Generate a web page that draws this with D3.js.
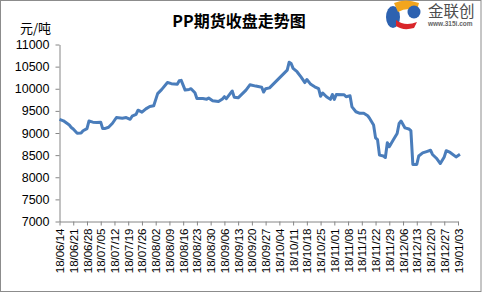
<!DOCTYPE html>
<html>
<head>
<meta charset="utf-8">
<script src="https://cdn.jsdelivr.net/npm/d3@7.9.0/dist/d3.min.js"></script>
<style>
  html, body { margin: 0; padding: 0; background: #fff; }
  svg { display: block; }
</style>
</head>
<body>
<svg id="chart" width="482" height="293"></svg>
<script>
// closing prices (date, yuan/ton)
const dates = [
  "2018-06-14","2018-06-16","2018-06-19","2018-06-20","2018-06-21","2018-06-23","2018-06-25","2018-06-26",
  "2018-06-28","2018-06-29","2018-07-01","2018-07-03","2018-07-05","2018-07-06","2018-07-07","2018-07-09",
  "2018-07-11","2018-07-13","2018-07-16","2018-07-18","2018-07-20","2018-07-21","2018-07-23","2018-07-24",
  "2018-07-26","2018-07-28","2018-07-30","2018-08-01","2018-08-03","2018-08-05","2018-08-08","2018-08-10",
  "2018-08-13","2018-08-14","2018-08-15","2018-08-17","2018-08-19","2018-08-20","2018-08-22","2018-08-23",
  "2018-08-26","2018-08-28","2018-08-29","2018-08-31","2018-09-03","2018-09-05","2018-09-06","2018-09-07",
  "2018-09-10","2018-09-11","2018-09-13","2018-09-17","2018-09-19","2018-09-22","2018-09-25","2018-09-26",
  "2018-09-27","2018-09-29","2018-10-08","2018-10-09","2018-10-10","2018-10-11","2018-10-13","2018-10-15",
  "2018-10-17","2018-10-18","2018-10-20","2018-10-22","2018-10-24","2018-10-25","2018-10-26","2018-10-28",
  "2018-10-30","2018-10-31","2018-11-01","2018-11-02","2018-11-06","2018-11-07","2018-11-09","2018-11-10",
  "2018-11-12","2018-11-14","2018-11-16","2018-11-18","2018-11-19","2018-11-21","2018-11-22","2018-11-23",
  "2018-11-24","2018-11-26","2018-11-27","2018-11-28","2018-11-29","2018-12-01","2018-12-03","2018-12-04",
  "2018-12-05","2018-12-07","2018-12-09","2018-12-10","2018-12-11","2018-12-13","2018-12-14","2018-12-16",
  "2018-12-18","2018-12-20","2018-12-21","2018-12-23","2018-12-25","2018-12-27","2018-12-28","2018-12-30",
  "2019-01-02","2019-01-04"
];
const prices = [
  9310, 9275, 9180, 9125, 9090, 8995, 9000, 9050,
  9100, 9270, 9245, 9240, 9245, 9100, 9100, 9130,
  9220, 9350, 9335, 9350, 9310, 9380, 9420, 9515,
  9470, 9545, 9600, 9615, 9890, 9980, 10140, 10115,
  10100, 10180, 10190, 9970, 9985, 10000, 9910, 9780,
  9780, 9765, 9790, 9730, 9710, 9770, 9820, 9775,
  9950, 9810, 9795, 9970, 10090, 10060, 10035, 9925,
  10000, 10020, 10420, 10600, 10570, 10460, 10385, 10270,
  10140, 10210, 10100, 10045, 10005, 9830, 9905, 9820,
  9760, 9870, 9760, 9870, 9865, 9820, 9840, 9590,
  9480, 9445, 9445, 9390, 9330, 9180, 8890, 8850,
  8500, 8480, 8446, 8780, 8690, 8840, 8990, 9215,
  9270, 9115, 9090, 9055, 8290, 8290, 8480, 8550,
  8580, 8610, 8515, 8430, 8310, 8460, 8600, 8560,
  8460, 8520
];
const yTicks = [7000, 7500, 8000, 8500, 9000, 9500, 10000, 10500, 11000];
const xTickLabels = [
  "18/06/14","18/06/21","18/06/28","18/07/05","18/07/12","18/07/19","18/07/26","18/08/02",
  "18/08/09","18/08/16","18/08/23","18/08/30","18/09/06","18/09/13","18/09/20","18/09/27",
  "18/10/04","18/10/11","18/10/18","18/10/25","18/11/01","18/11/08","18/11/15","18/11/22",
  "18/11/29","18/12/06","18/12/13","18/12/20","18/12/27","19/01/03"
];

const parse = d3.timeParse("%Y-%m-%d");
const parseTick = d3.timeParse("%y/%m/%d");
const data = dates.map((d, i) => ({ date: parse(d), value: prices[i] }));
const xTicks = xTickLabels.map(parseTick);

const svg = d3.select("#chart");
const font = "'Liberation Sans', Arial, sans-serif";
const cjk = "'Noto Sans CJK SC', sans-serif";

// frame
svg.append("rect").attr("x", 0.5).attr("y", 0.5).attr("width", 480.5).attr("height", 291)
  .attr("fill", "#fff").attr("stroke", "#8c8c8c");

const x = d3.scaleTime().domain([xTicks[0], xTicks[xTicks.length - 1]]).range([59.5, 458]);
const y = d3.scaleLinear().domain([7000, 11000]).range([221.5, 44.5]);

// y axis
const yAxis = svg.append("g").attr("transform", "translate(59.5,0)")
  .call(d3.axisLeft(y).tickValues(yTicks).tickFormat(d3.format("d"))
    .tickSize(4).tickPadding(6).tickSizeOuter(0));
yAxis.select(".domain").attr("stroke", "#868686");
yAxis.selectAll(".tick line").attr("stroke", "#868686");
yAxis.selectAll("text").attr("font-family", font).attr("font-size", 12.5).attr("fill", "#000");

// x axis, weekly labels
const xAxis = svg.append("g").attr("transform", "translate(0,221.5)")
  .call(d3.axisBottom(x).tickValues(xTicks).tickFormat(d3.timeFormat("%y/%m/%d"))
    .tickSize(4).tickSizeOuter(0));
xAxis.select(".domain").attr("stroke", "#868686");
xAxis.selectAll(".tick line").attr("stroke", "#868686");
xAxis.selectAll("text")
  .attr("font-family", font).attr("font-size", 11.5).attr("fill", "#000")
  .attr("transform", "rotate(-90)")
  .attr("text-anchor", "end")
  .attr("x", -7).attr("y", 0).attr("dy", "0.35em");

// price line
svg.append("path").datum(data)
  .attr("fill", "none")
  .attr("stroke", "#4a7dbb")
  .attr("stroke-width", 3)
  .attr("stroke-linejoin", "round")
  .attr("d", d3.line().x(d => x(d.date)).y(d => y(d.value)));

// title and unit
svg.append("text").attr("x", 239).attr("y", 27).attr("text-anchor", "middle")
  .attr("font-family", cjk).attr("font-weight", "bold")
  .attr("font-size", 16).text("PP期货收盘走势图");
svg.append("text").attr("x", 20).attr("y", 33)
  .attr("font-family", cjk).attr("font-size", 13).text("元/吨");

// logo
const logo = svg.append("g");
logo.append("ellipse").attr("cx", 393).attr("cy", 17).attr("rx", 7).attr("ry", 11).attr("fill", "#2d62b0");
logo.append("path").attr("d", "M394,3 Q405,-2 419,3 L417,10 Q406,7 398,12 Z").attr("fill", "#f2a51d");
logo.append("path").attr("d", "M396,20 Q405,27 417,22 L414,28 Q403,31 396,26 Z").attr("fill", "#d9262a");
logo.append("circle").attr("cx", 414).attr("cy", 12).attr("r", 6.5).attr("fill", "#2d62b0");
logo.append("text").attr("x", 428).attr("y", 17).attr("font-family", cjk)
  .attr("font-size", 15.5).attr("fill", "#4d4d4d").text("金联创");
logo.append("text").attr("x", 428).attr("y", 26).attr("font-family", font)
  .attr("font-size", 6.5).attr("font-weight", "bold").attr("fill", "#666").text("www.315i.com");
</script>
</body>
</html>
